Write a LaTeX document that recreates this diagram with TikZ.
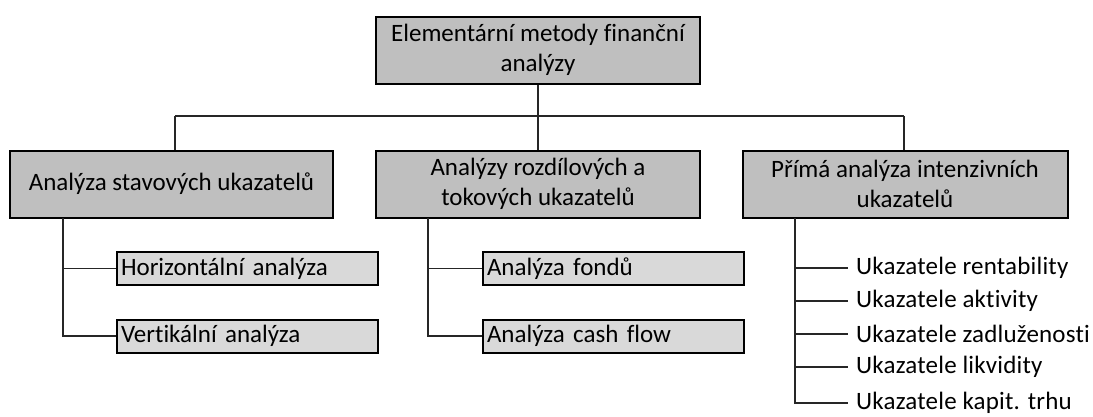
\documentclass[tikz,border=0pt]{standalone}
\usepackage{fontspec}
\setmainfont{Carlito}[Ligatures=NoCommon]
\usetikzlibrary{positioning}

\tikzset{
  mainbox/.style={draw=black, line width=2pt, fill=black!25, minimum width=324pt, minimum height=67pt, align=center, inner sep=2pt},
  subbox/.style={draw=black, line width=2pt, fill=black!15, minimum height=33pt, text width=253pt, align=left, inner xsep=4pt, inner ysep=0pt},
  leaf/.style={anchor=west, inner xsep=8pt, inner ysep=0pt, font=\fontsize{25}{30}\selectfont\addfontfeatures{LetterSpace=0.8}},
  conn/.style={line width=1.2pt, draw=black!85}
}

\begin{document}
\begin{tikzpicture}[x=1pt, y=-1pt, font=\fontsize{25}{30}\selectfont]
			%%%%% START %%%%%
			\useasboundingbox (0, 0) rectangle (1093, 416);
			
			\node[mainbox] (root) at (538, 50) {Elementární metody finanční\\analýzy};
			
			\node[mainbox, minimum width=323pt] (stav) at (171.5, 184) {Analýza stavových ukazatelů};
			\node[mainbox] (tok) at (538, 184) {Analýzy rozdílových a\\tokových ukazatelů};
			\node[mainbox, minimum width=325pt] (prima) at (905, 184) {Přímá analýza intenzivních\\ukazatelů};
			
			\coordinate (barL) at (175, 116);
			\coordinate (barR) at (904, 116);
			\draw[conn] (barL) -- (barR);
			\draw[conn] (root.south) -- (root.south |- barL);
			\draw[conn] (barL) -- (barL |- stav.north);
			\draw[conn] (root.south |- barL) -- (tok.north);
			\draw[conn] (barR) -- (barR |- prima.north);
			
			\node[subbox] (horiz) at (247.5, 268.5) {Horizontální analýza};
			\node[subbox] (vert) at (247.5, 336) {Vertikální analýza};
			\coordinate (stemA) at (63, 218);
			\draw[conn] (stemA) |- (horiz.west);
			\draw[conn] (stemA) |- (vert.west);
			
			\node[subbox] (fond) at (613.5, 268.5) {Analýza fondů};
			\node[subbox] (cash) at (613.5, 336) {Analýza cash flow};
			\coordinate (stemB) at (428, 218);
			\draw[conn] (stemB) |- (fond.west);
			\draw[conn] (stemB) |- (cash.west);
			
			\node[leaf] (rent) at (848, 268) {Ukazatele rentability};
			\node[leaf] (aktiv) at (848, 301) {Ukazatele aktivity};
			\node[leaf] (zadl) at (848, 334) {Ukazatele zadluženosti};
			\node[leaf] (likv) at (848, 367) {Ukazatele likvidity};
			\node[leaf] (trh) at (848, 403) {Ukazatele kapit. trhu};
			\coordinate (stemC) at (795, 218);
			\draw[conn] (stemC) |- (rent.west);
			\draw[conn] (stemC) |- (aktiv.west);
			\draw[conn] (stemC) |- (zadl.west);
			\draw[conn] (stemC) |- (likv.west);
			\draw[conn] (stemC) |- (trh.west);
			%%%%% END %%%%%
\end{tikzpicture}
\end{document}
